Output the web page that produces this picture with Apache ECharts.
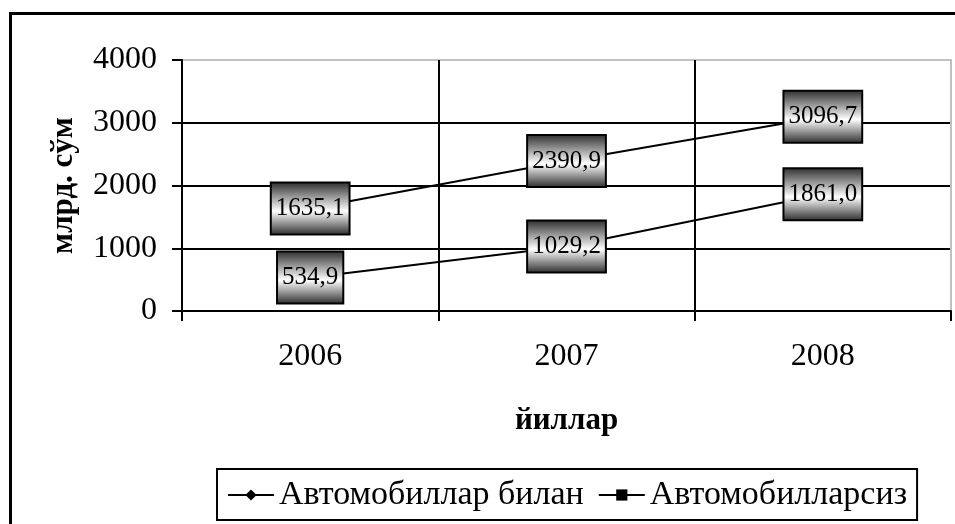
<!DOCTYPE html>
<html>
<head>
<meta charset="utf-8">
<script src="https://cdn.jsdelivr.net/npm/echarts@6/dist/echarts.min.js"></script>
<style>html,body{margin:0;padding:0;background:#fff}#c{width:955px;height:524px}</style>
</head>
<body>
<div id="c"></div>
<script>
var categories = ['2006', '2007', '2008'];
var seriesNames = ['Автомобиллар билан', 'Автомобилларсиз'];
var withCars = [534.9, 1029.2, 1861.0];
var withoutCars = [1635.1, 2390.9, 3096.7];
var yTicks = {min: 0, max: 4000, interval: 1000};
var yName = 'млрд. сўм';
var xName = 'йиллар';

var FONT = '"Liberation Serif", "Times New Roman", serif';
var chart = echarts.init(document.getElementById('c'), null, {renderer: 'canvas'});

function fmt(p) { return p.value.toFixed(1).replace('.', ','); }
function labelStyle() {
  return {
    show: true,
    position: 'inside',
    formatter: fmt,
    fontFamily: FONT,
    fontSize: 25,
    lineHeight: 26,
    color: '#000',
    padding: [12, 4, 12, 4],
    borderColor: '#000',
    borderWidth: 2,
    backgroundColor: new echarts.graphic.LinearGradient(0, 0, 0, 1, [
      {offset: 0, color: '#2a2a2a'},
      {offset: 0.55, color: '#ffffff'},
      {offset: 1, color: '#2a2a2a'}
    ])
  };
}

chart.setOption({
  animation: false,
  backgroundColor: '#fff',
  graphic: [{
    type: 'rect', left: 8, top: 11, z: -10,
    shape: {width: 1000, height: 600},
    style: {fill: 'none', stroke: '#000', lineWidth: 3}
  }],
  grid: {left: 182, right: 4, top: 60, bottom: 213, show: true, borderColor: '#c0c0c0', borderWidth: 2},
  legend: {
    left: 217, top: 469,
    padding: [9, 10, 8, 10],
    borderColor: '#000', borderWidth: 2,
    itemWidth: 46, itemHeight: 14, itemGap: 14,
    textStyle: {fontFamily: FONT, fontSize: 34, lineHeight: 32, color: '#000'},
    data: seriesNames
  },
  xAxis: {
    type: 'category',
    data: categories,
    name: xName,
    nameLocation: 'middle',
    nameGap: 94,
    nameTextStyle: {fontFamily: FONT, fontSize: 31, fontWeight: 'bold', color: '#000'},
    axisLine: {lineStyle: {color: '#000', width: 2}},
    axisTick: {show: true, length: 10, lineStyle: {color: '#000', width: 2}},
    axisLabel: {fontFamily: FONT, fontSize: 32, color: '#000', margin: 30},
    splitLine: {show: true, lineStyle: {color: ['#000', '#000', '#000', '#c0c0c0'], width: 2}}
  },
  yAxis: {
    type: 'value',
    min: yTicks.min, max: yTicks.max, interval: yTicks.interval,
    name: yName,
    nameLocation: 'middle',
    nameGap: 103,
    nameTextStyle: {fontFamily: FONT, fontSize: 31, fontWeight: 'bold', color: '#000'},
    axisLine: {show: true, lineStyle: {color: '#000', width: 2}},
    axisTick: {show: true, length: 10, lineStyle: {color: '#000', width: 2}},
    axisLabel: {fontFamily: FONT, fontSize: 32, color: '#000', margin: 25, formatter: function (v) { return String(v); }},
    splitLine: {show: true, lineStyle: {color: ['#000', '#000', '#000', '#000', '#c0c0c0'], width: 2}}
  },
  series: [{
    name: seriesNames[0],
    type: 'line',
    data: withCars,
    symbol: 'diamond', symbolSize: 12,
    itemStyle: {color: '#000'},
    lineStyle: {color: '#000', width: 2},
    label: labelStyle()
  }, {
    name: seriesNames[1],
    type: 'line',
    data: withoutCars,
    symbol: 'rect', symbolSize: 10,
    itemStyle: {color: '#000'},
    lineStyle: {color: '#000', width: 2},
    label: labelStyle()
  }]
});
</script>
</body>
</html>
